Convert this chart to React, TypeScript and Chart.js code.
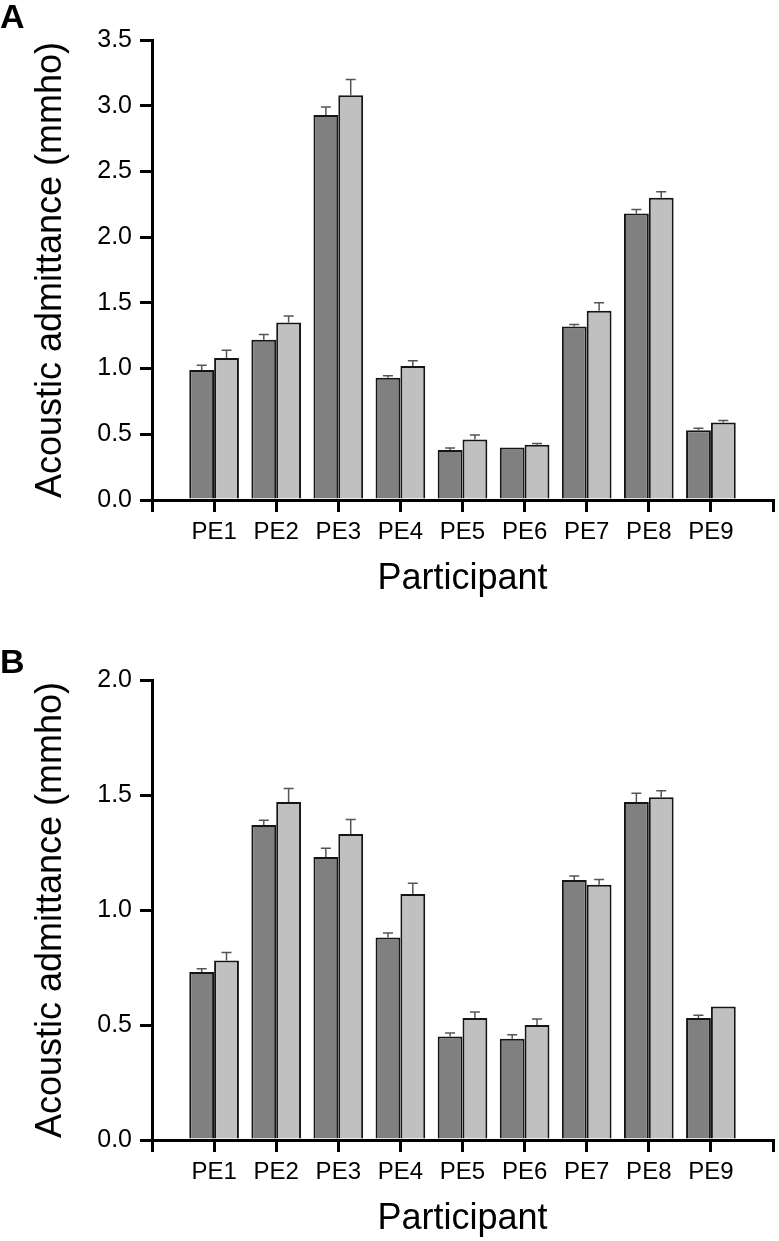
import React, { useEffect, useRef } from "react";
import { Chart, registerables } from "chart.js";

Chart.register(...registerables);

// ---------- data ----------
const participants = ["PE1", "PE2", "PE3", "PE4", "PE5", "PE6", "PE7", "PE8", "PE9"];

// Panel A
const aDark = [0.99, 1.22, 2.93, 0.93, 0.38, 0.4, 1.32, 2.18, 0.53];
const aDarkErr = [0.035, 0.04, 0.06, 0.015, 0.015, 0.0, 0.015, 0.03, 0.015];
const aLight = [1.08, 1.35, 3.08, 1.02, 0.46, 0.42, 1.44, 2.3, 0.59];
const aLightErr = [0.06, 0.05, 0.12, 0.04, 0.035, 0.01, 0.06, 0.045, 0.015];
const aTicks = [0, 0.5, 1.0, 1.5, 2.0, 2.5, 3.0, 3.5];

// Panel B
const bDark = [0.73, 1.37, 1.23, 0.88, 0.45, 0.44, 1.13, 1.47, 0.53];
const bDarkErr = [0.015, 0.02, 0.038, 0.02, 0.015, 0.018, 0.018, 0.038, 0.012];
const bLight = [0.78, 1.47, 1.33, 1.07, 0.53, 0.5, 1.11, 1.49, 0.58];
const bLightErr = [0.035, 0.058, 0.063, 0.046, 0.026, 0.026, 0.023, 0.029, 0];
const bTicks = [0, 0.5, 1.0, 1.5, 2.0];

const yTitle = "Acoustic admittance (mmho)";
const xTitle = "Participant";

const FONT = "'Liberation Sans', Arial, sans-serif";
const DARK = "#808080";
const LIGHT = "#c0c0c0";

const W = 779;
const H = 601;

function pad<T>(arr: T[]): (T | null)[] {
  return [null, ...arr, null];
}

interface PanelProps {
  letter: string;
  letterBaseline: number;
  dark: number[];
  darkErr: number[];
  light: number[];
  lightErr: number[];
  ticks: number[];
  top: number;
}

function Panel(props: PanelProps) {
  const ref = useRef<HTMLCanvasElement | null>(null);

  useEffect(() => {
    if (!ref.current) return;
    const errs = [props.darkErr, props.lightErr];
    const vals = [props.dark, props.light];
    const yMax = props.ticks[props.ticks.length - 1];

    const errorBars = {
      id: "errorBars",
      afterDatasetsDraw(chart: any) {
        const ctx = chart.ctx;
        const yScale = chart.scales.y;
        ctx.save();
        ctx.strokeStyle = "#555555";
        ctx.lineWidth = 1.5;
        for (let i = 0; i < 2; i++) {
          const meta = chart.getDatasetMeta(i);
          meta.data.forEach((bar: any, j: number) => {
            const k = j - 1;
            if (k < 0 || k >= vals[i].length) return;
            const v = vals[i][k];
            const e = errs[i][k];
            if (!e) return;
            const x = bar.x;
            const y0 = yScale.getPixelForValue(v);
            const y1 = yScale.getPixelForValue(v + e);
            ctx.beginPath();
            ctx.moveTo(x, y0);
            ctx.lineTo(x, y1);
            ctx.moveTo(x - 5, y1);
            ctx.lineTo(x + 5, y1);
            ctx.stroke();
          });
        }
        ctx.restore();
      },
      afterDraw(chart: any) {
        const ctx = chart.ctx;
        ctx.save();
        ctx.fillStyle = "#000";
        ctx.font = `bold 34px ${FONT}`;
        ctx.textBaseline = "alphabetic";
        ctx.textAlign = "left";
        ctx.fillText(props.letter, 0, props.letterBaseline);
        ctx.restore();
      },
    };

    const gridOpts = {
      display: true,
      offset: false,
      drawOnChartArea: false,
      drawTicks: true,
      tickLength: 12,
      tickWidth: 3,
      lineWidth: 3,
      tickColor: "#000",
      color: "#000",
    };

    const chart = new Chart(ref.current, {
      type: "bar",
      data: {
        labels: ["", ...participants, ""],
        datasets: [
          {
            data: pad(props.dark) as any,
            backgroundColor: DARK,
            borderColor: "#151515",
            borderWidth: 2,
            categoryPercentage: 0.8,
            barPercentage: 1.0,
          },
          {
            data: pad(props.light) as any,
            backgroundColor: LIGHT,
            borderColor: "#151515",
            borderWidth: 2,
            categoryPercentage: 0.8,
            barPercentage: 1.0,
          },
        ],
      },
      options: {
        responsive: false,
        animation: false,
        devicePixelRatio: 1,
        layout: { padding: { top: 40, right: 3, bottom: 0, left: 0 } },
        plugins: {
          legend: { display: false },
          tooltip: { enabled: false },
        },
        scales: {
          x: {
            type: "category",
            offset: false,
            grid: gridOpts as any,
            border: { display: true, width: 3, color: "#000" },
            ticks: {
              autoSkip: false,
              maxRotation: 0,
              minRotation: 0,
              padding: 6,
              color: "#000",
              font: { family: FONT, size: 24 },
            },
            title: {
              display: true,
              text: xTitle,
              color: "#000",
              font: { family: FONT, size: 36 },
              padding: { top: 0, bottom: 0 },
            },
            afterFit(scale: any) {
              scale.height = 101;
            },
          },
          y: {
            type: "linear",
            min: 0,
            max: yMax,
            afterBuildTicks(scale: any) {
              scale.ticks = props.ticks.map((v) => ({ value: v }));
            },
            grid: gridOpts as any,
            border: { display: true, width: 3, color: "#000" },
            ticks: {
              padding: 8,
              color: "#000",
              font: { family: FONT, size: 25 },
              callback: (v: any) => Number(v).toFixed(1),
            },
            title: {
              display: true,
              text: yTitle,
              color: "#000",
              font: { family: FONT, size: 36 },
              padding: { top: 29, bottom: 0 },
            },
            afterFit(scale: any) {
              scale.width = 152;
            },
          },
        },
      },
      plugins: [errorBars],
    });

    return () => chart.destroy();
  }, []);

  return (
    <canvas
      ref={ref}
      width={W}
      height={H}
      style={{ position: "absolute", left: 0, top: props.top, width: W, height: H }}
    />
  );
}

export default function App() {
  useEffect(() => {
    document.body.style.margin = "0";
    document.body.style.overflow = "hidden";
  }, []);
  return (
    <div style={{ position: "absolute", left: 0, top: 0, width: W, height: 1241, background: "#fff" }}>
      <Panel
        letter="A"
        letterBaseline={28}
        dark={aDark}
        darkErr={aDarkErr}
        light={aLight}
        lightErr={aLightErr}
        ticks={aTicks}
        top={0}
      />
      <Panel
        letter="B"
        letterBaseline={33}
        dark={bDark}
        darkErr={bDarkErr}
        light={bLight}
        lightErr={bLightErr}
        ticks={bTicks}
        top={640}
      />
    </div>
  );
}
